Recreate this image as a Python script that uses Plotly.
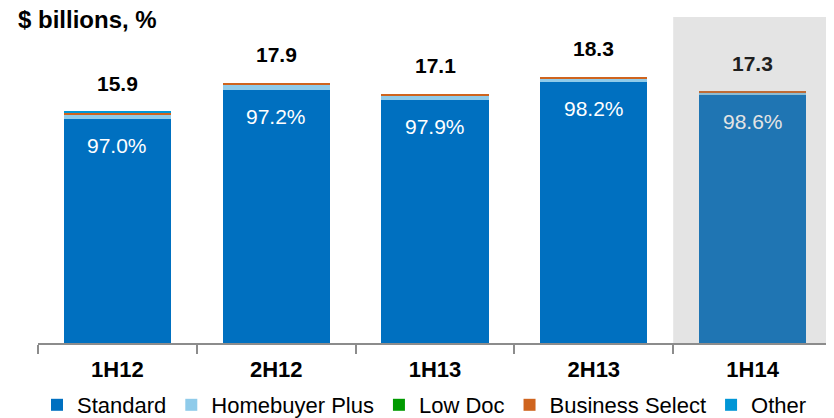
import plotly.graph_objects as go

categories = ["1H12", "2H12", "1H13", "2H13", "1H14"]
totals = [15.9, 17.9, 17.1, 18.3, 17.3]
standard_pct = [97.0, 97.2, 97.9, 98.2, 98.6]
homebuyer_plus = [0.27, 0.36, 0.28, 0.25, 0.17]
low_doc = [0.0, 0.0, 0.01, 0.0, 0.0]
business_select = [0.20, 0.14, 0.07, 0.08, 0.07]
other = [0.01, 0.0, 0.0, 0.0, 0.0]
standard = [round(t * p / 100, 2) for t, p in zip(totals, standard_pct)]

FONT = "Liberation Sans, Arial, sans-serif"
OFF = 8  # default body margin of the html page
W, H = 834 - OFF, 418 - OFF
ML, MR, MT, MB = 38 - OFF, 2, 17 - OFF, 75

series = [
    ("Standard", standard, "#0070C0"),
    ("Homebuyer Plus", homebuyer_plus, "#8FCBEA"),
    ("Low Doc", low_doc, "#009A00"),
    ("Business Select", business_select, "#CF641E"),
    ("Other", other, "#0096D6"),
]

fig = go.Figure()
for name, vals, col in series:
    fig.add_trace(go.Bar(
        x=categories, y=vals, name=name,
        marker=dict(color=col, line=dict(width=0)),
        hoverinfo="skip",
    ))

ov_alpha = 0.227
ov_gray = 137

def dim(rgb):
    return "rgb({},{},{})".format(*[round(c * (1 - ov_alpha) + ov_gray * ov_alpha) for c in rgb])

annotations = []
last = len(categories) - 1
for i, (c, t, p, s) in enumerate(zip(categories, totals, standard_pct, standard)):
    hl = i == last
    annotations.append(dict(
        x=c, y=t, xref="x", yref="y", text=f"{t:.1f}", showarrow=False,
        yanchor="bottom", yshift=15,
        font=dict(family=FONT, size=21, color=dim((0, 0, 0)) if hl else "#000000", weight="bold"),
    ))
    annotations.append(dict(
        x=c, y=s, xref="x", yref="y", text=f"{p:.1f}%", showarrow=False,
        yanchor="top", yshift=-13,
        font=dict(family=FONT, size=21, color=dim((255, 255, 255)) if hl else "#FFFFFF"),
    ))

fig.update_layout(
    width=W, height=H,
    margin=dict(l=ML, r=MR, t=MT, b=MB, pad=0, autoexpand=False),
    barmode="stack", bargap=0.326,
    paper_bgcolor="white", plot_bgcolor="white",
    font=dict(family=FONT, color="#000000"),
    title=dict(text="$ billions, %", x=(18 - OFF) / W, xanchor="left", xref="container",
               y=1 - (20 - OFF) / H, yanchor="middle", yref="container",
               font=dict(family=FONT, size=24, color="#000000", weight="bold")),
    xaxis=dict(
        showline=True, linecolor="#8C8C8C", linewidth=2, automargin=False,
        ticks="outside", tickson="boundaries", ticklen=9, tickwidth=2, tickcolor="#8C8C8C",
        ticklabelstandoff=6,
        tickfont=dict(family=FONT, size=22, color="#000000", weight="bold"),
        showgrid=False, zeroline=False, fixedrange=True,
    ),
    yaxis=dict(visible=False, range=[0, 22.43], fixedrange=True),
    legend=dict(
        orientation="h", x=(424.5 - OFF) / W, xanchor="center", xref="container",
        y=1 - (405 - OFF) / H, yanchor="middle", yref="container",
        font=dict(family=FONT, size=22, color="#000000"),
        itemwidth=30, tracegroupgap=0, traceorder="normal",
    ),
    annotations=annotations,
    shapes=[dict(
        type="rect", xref="x", yref="paper",
        x0=last - 0.5, x1=last + 0.5, y0=0, y1=1,
        fillcolor=f"rgba({ov_gray},{ov_gray},{ov_gray},{ov_alpha})",
        line=dict(width=0), layer="above",
    )],
)

fig.write_html("out.html")
